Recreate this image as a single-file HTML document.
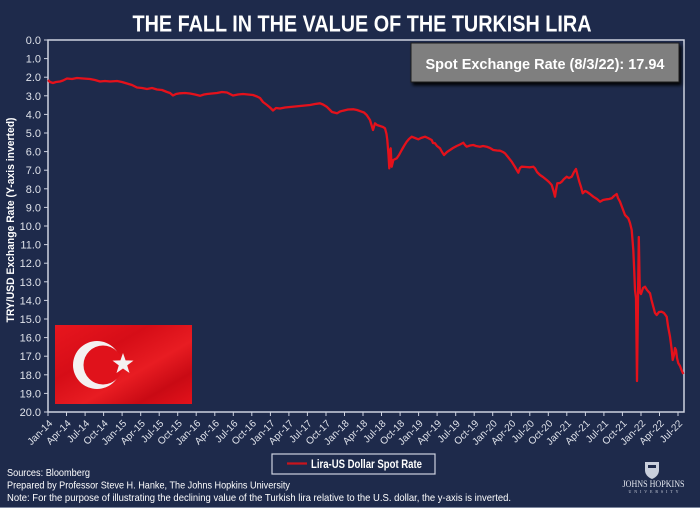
<!DOCTYPE html>
<html><head><meta charset="utf-8"><style>
html,body{margin:0;padding:0;background:#1e2a4b;}
svg{display:block;}
text{font-family:"Liberation Sans",sans-serif;}
text.serif{font-family:"Liberation Serif",serif;}
</style></head><body>
<svg width="700" height="508" viewBox="0 0 700 508" xmlns="http://www.w3.org/2000/svg">
<defs>
<linearGradient id="fg" x1="0" y1="0" x2="1" y2="1">
<stop offset="0" stop-color="#e8161e"/><stop offset="0.35" stop-color="#d60d17"/><stop offset="0.6" stop-color="#e81c22"/><stop offset="0.8" stop-color="#c90a14"/><stop offset="1" stop-color="#e3121b"/>
</linearGradient>
<filter id="sh" x="-10%" y="-20%" width="130%" height="160%"><feDropShadow dx="2" dy="3" stdDeviation="1.5" flood-color="#000" flood-opacity="0.9"/></filter>
</defs>
<rect width="700" height="508" fill="#1e2a4b"/>
<line x1="0" y1="507.5" x2="700" y2="507.5" stroke="#7d879e" stroke-width="1"/>
<!-- title -->
<text x="362" y="31.5" text-anchor="middle" font-size="23" font-weight="bold" fill="#ffffff" textLength="459" lengthAdjust="spacingAndGlyphs">THE FALL IN THE VALUE OF THE TURKISH LIRA</text>
<!-- plot frame -->
<rect x="48" y="40" width="636" height="372" fill="none" stroke="#cdd2e0" stroke-width="1.5"/>
<!-- y ticks & labels -->
<g stroke="#cdd2e0" stroke-width="1">
<line x1="44" y1="40" x2="48" y2="40"/><line x1="44" y1="58.6" x2="48" y2="58.6"/><line x1="44" y1="77.2" x2="48" y2="77.2"/><line x1="44" y1="95.8" x2="48" y2="95.8"/><line x1="44" y1="114.4" x2="48" y2="114.4"/><line x1="44" y1="133" x2="48" y2="133"/><line x1="44" y1="151.6" x2="48" y2="151.6"/><line x1="44" y1="170.2" x2="48" y2="170.2"/><line x1="44" y1="188.8" x2="48" y2="188.8"/><line x1="44" y1="207.4" x2="48" y2="207.4"/><line x1="44" y1="226" x2="48" y2="226"/><line x1="44" y1="244.6" x2="48" y2="244.6"/><line x1="44" y1="263.2" x2="48" y2="263.2"/><line x1="44" y1="281.8" x2="48" y2="281.8"/><line x1="44" y1="300.4" x2="48" y2="300.4"/><line x1="44" y1="319" x2="48" y2="319"/><line x1="44" y1="337.6" x2="48" y2="337.6"/><line x1="44" y1="356.2" x2="48" y2="356.2"/><line x1="44" y1="374.8" x2="48" y2="374.8"/><line x1="44" y1="393.4" x2="48" y2="393.4"/><line x1="44" y1="412" x2="48" y2="412"/>
</g>
<g font-size="11" fill="#dfe2ea" text-anchor="end">
<text x="41" y="44">0.0</text><text x="41" y="62.6">1.0</text><text x="41" y="81.2">2.0</text><text x="41" y="99.8">3.0</text><text x="41" y="118.4">4.0</text><text x="41" y="137">5.0</text><text x="41" y="155.6">6.0</text><text x="41" y="174.2">7.0</text><text x="41" y="192.8">8.0</text><text x="41" y="211.4">9.0</text><text x="41" y="230">10.0</text><text x="41" y="248.6">11.0</text><text x="41" y="267.2">12.0</text><text x="41" y="285.8">13.0</text><text x="41" y="304.4">14.0</text><text x="41" y="323">15.0</text><text x="41" y="341.6">16.0</text><text x="41" y="360.2">17.0</text><text x="41" y="378.8">18.0</text><text x="41" y="397.4">19.0</text><text x="41" y="416">20.0</text>
</g>
<text transform="translate(14,220) rotate(-90)" text-anchor="middle" font-size="11" font-weight="bold" fill="#ffffff" textLength="205" lengthAdjust="spacingAndGlyphs">TRY/USD Exchange Rate (Y-axis inverted)</text>
<!-- x ticks -->
<g stroke="#cdd2e0" stroke-width="1">
<line x1="48" y1="412" x2="48" y2="416"/><line x1="66.5" y1="412" x2="66.5" y2="416"/><line x1="85.1" y1="412" x2="85.1" y2="416"/><line x1="103.6" y1="412" x2="103.6" y2="416"/><line x1="122.1" y1="412" x2="122.1" y2="416"/><line x1="140.7" y1="412" x2="140.7" y2="416"/><line x1="159.2" y1="412" x2="159.2" y2="416"/><line x1="177.7" y1="412" x2="177.7" y2="416"/><line x1="196.2" y1="412" x2="196.2" y2="416"/><line x1="214.8" y1="412" x2="214.8" y2="416"/><line x1="233.3" y1="412" x2="233.3" y2="416"/><line x1="251.8" y1="412" x2="251.8" y2="416"/><line x1="270.4" y1="412" x2="270.4" y2="416"/><line x1="288.9" y1="412" x2="288.9" y2="416"/><line x1="307.4" y1="412" x2="307.4" y2="416"/><line x1="326" y1="412" x2="326" y2="416"/><line x1="344.5" y1="412" x2="344.5" y2="416"/><line x1="363" y1="412" x2="363" y2="416"/><line x1="381.5" y1="412" x2="381.5" y2="416"/><line x1="400.1" y1="412" x2="400.1" y2="416"/><line x1="418.6" y1="412" x2="418.6" y2="416"/><line x1="437.1" y1="412" x2="437.1" y2="416"/><line x1="455.7" y1="412" x2="455.7" y2="416"/><line x1="474.2" y1="412" x2="474.2" y2="416"/><line x1="492.7" y1="412" x2="492.7" y2="416"/><line x1="511.3" y1="412" x2="511.3" y2="416"/><line x1="529.8" y1="412" x2="529.8" y2="416"/><line x1="548.3" y1="412" x2="548.3" y2="416"/><line x1="566.8" y1="412" x2="566.8" y2="416"/><line x1="585.4" y1="412" x2="585.4" y2="416"/><line x1="603.9" y1="412" x2="603.9" y2="416"/><line x1="622.4" y1="412" x2="622.4" y2="416"/><line x1="641" y1="412" x2="641" y2="416"/><line x1="659.5" y1="412" x2="659.5" y2="416"/><line x1="678" y1="412" x2="678" y2="416"/>
</g>
<g font-size="10" fill="#dfe2ea" text-anchor="end">
<text transform="translate(53,424) rotate(-45)">Jan-14</text>
<text transform="translate(71.5,424) rotate(-45)">Apr-14</text>
<text transform="translate(90.1,424) rotate(-45)">Jul-14</text>
<text transform="translate(108.6,424) rotate(-45)">Oct-14</text>
<text transform="translate(127.1,424) rotate(-45)">Jan-15</text>
<text transform="translate(145.7,424) rotate(-45)">Apr-15</text>
<text transform="translate(164.2,424) rotate(-45)">Jul-15</text>
<text transform="translate(182.7,424) rotate(-45)">Oct-15</text>
<text transform="translate(201.2,424) rotate(-45)">Jan-16</text>
<text transform="translate(219.8,424) rotate(-45)">Apr-16</text>
<text transform="translate(238.3,424) rotate(-45)">Jul-16</text>
<text transform="translate(256.8,424) rotate(-45)">Oct-16</text>
<text transform="translate(275.4,424) rotate(-45)">Jan-17</text>
<text transform="translate(293.9,424) rotate(-45)">Apr-17</text>
<text transform="translate(312.4,424) rotate(-45)">Jul-17</text>
<text transform="translate(331,424) rotate(-45)">Oct-17</text>
<text transform="translate(349.5,424) rotate(-45)">Jan-18</text>
<text transform="translate(368,424) rotate(-45)">Apr-18</text>
<text transform="translate(386.5,424) rotate(-45)">Jul-18</text>
<text transform="translate(405.1,424) rotate(-45)">Oct-18</text>
<text transform="translate(423.6,424) rotate(-45)">Jan-19</text>
<text transform="translate(442.1,424) rotate(-45)">Apr-19</text>
<text transform="translate(460.7,424) rotate(-45)">Jul-19</text>
<text transform="translate(479.2,424) rotate(-45)">Oct-19</text>
<text transform="translate(497.7,424) rotate(-45)">Jan-20</text>
<text transform="translate(516.3,424) rotate(-45)">Apr-20</text>
<text transform="translate(534.8,424) rotate(-45)">Jul-20</text>
<text transform="translate(553.3,424) rotate(-45)">Oct-20</text>
<text transform="translate(571.8,424) rotate(-45)">Jan-21</text>
<text transform="translate(590.4,424) rotate(-45)">Apr-21</text>
<text transform="translate(608.9,424) rotate(-45)">Jul-21</text>
<text transform="translate(627.4,424) rotate(-45)">Oct-21</text>
<text transform="translate(646,424) rotate(-45)">Jan-22</text>
<text transform="translate(664.5,424) rotate(-45)">Apr-22</text>
<text transform="translate(683,424) rotate(-45)">Jul-22</text>
</g>
<!-- data line -->
<polyline fill="none" stroke="#e4111b" stroke-width="2.3" stroke-linejoin="round" points="48,80 50,82 53,83 56,82 60,81.5 63,80.5 67,78.5 72,79 77,78 83,78.5 90,79 95,80 100,81.5 105,81 110,81.5 117,81 122,82 127,83.5 132,85 137,87.5 142,88 147,89 152,88 157,89.5 162,90 167,92 170,93 173,95.5 176,94 180,93.3 185,93 190,93.5 195,94.5 200,95.8 204,94.5 207,94 212,93.5 217,93 222,92 227,92.5 230,94 233,95.5 238,94.5 243,94 248,94.5 253,95 257,96.5 260,98 263,102 267,105 270,107.5 273,110.5 276,108 280,108.5 285,107.5 290,107 295,106.5 300,106 305,105.5 310,105 315,104 320,103.3 323,104.5 326.7,106.7 330,110 332,112 337,113.3 340,111.5 343,110.7 348,109.5 353.3,109.3 357,110 361.7,111.7 364,112.5 366.7,115 368,117 370,120 371.5,125 373,130 375,123.3 377,125 380,126 383,127 385,128.3 386.5,134 387.3,140 388.5,155 389.3,168.3 390.2,150 390.7,148.3 391.3,160 391.7,166.7 393.3,160 396.7,158.3 399,155 401.7,150 404,146 406.7,141.7 409,139 411.7,136.7 415,138 418.3,139.3 421,138 425,136.7 428,138 431.7,140 433,143 435,143.3 437,146 440,148.3 442,152 444,155 447,152 450,150 453,148 456.7,146 460,144.5 463.3,142.7 465,145 466.7,146.7 470,145.5 473.3,145 476,146 480,146.7 483,146 486.7,146.7 490,148 493.3,150 497,150.5 500,150.7 503,152 505,153.3 508,157 511.7,161.7 515,167 518.3,172.7 520,168 521.7,166.7 526,167 530,167.3 533.3,166.7 535,168.3 537,172 540,175 543,177 546.7,180 549,182 551.7,185 553.5,191 555,196.7 556,190 557.3,183.3 560,183 561.7,181.7 564,179 566.7,176.7 569,178 571.7,176.7 574,172 576,169 577.5,175 579.3,181.7 581,187 582.7,193.3 585,191 586.7,191.7 590,194 593.3,196.7 597,199 600,201.7 603,200 606.7,199.3 609,199 611.7,198.3 614,196 616.7,194 618,198 620,201.7 622,207 625,215 627,217 628.3,218.3 630,223 631.7,230 632.5,240 633.3,250 634.2,270 635,290 636,298 637,381 638,300 638.8,237 639.8,292 641,294 643,288 645,286.7 647,290 650,293.3 651.5,300 653.3,306.7 655,313 656.7,315 659,312 661.7,311.7 664,313 666.7,316.7 668,326 670,336.7 671.5,348 672.7,360 674,355 675,348 676,350 677,358 678.3,363.3 680,366 681.5,370 683.3,374"/>
<!-- spot box -->
<rect x="411" y="43" width="268" height="39" fill="#7f7f7f" stroke="#1a1a1a" stroke-width="1" filter="url(#sh)"/>
<text x="545" y="69" text-anchor="middle" font-size="15" font-weight="bold" fill="#ffffff" textLength="239" lengthAdjust="spacingAndGlyphs">Spot Exchange Rate (8/3/22): 17.94</text>
<!-- flag -->
<rect x="55" y="325" width="137" height="79" fill="url(#fg)"/>
<circle cx="97" cy="365" r="24" fill="#f4f1f1"/>
<circle cx="103" cy="365" r="19.5" fill="#e0121b"/>
<polygon fill="#f4f1f1" points="123,353 125.6,360.4 133.5,360.6 127.2,365.4 129.5,373 123,368.5 116.5,373 118.8,365.4 112.5,360.6 120.4,360.4"/>
<!-- legend -->
<rect x="272" y="454" width="163" height="20" fill="none" stroke="#cdd2e0" stroke-width="1.2"/>
<line x1="287" y1="463.5" x2="307" y2="463.5" stroke="#c8141c" stroke-width="2.2"/>
<text x="311" y="468" font-size="12" font-weight="bold" fill="#ffffff" textLength="111" lengthAdjust="spacingAndGlyphs">Lira-US Dollar Spot Rate</text>
<!-- footer -->
<g font-size="10.5" fill="#ffffff">
<text x="7" y="476" textLength="83" lengthAdjust="spacingAndGlyphs">Sources: Bloomberg</text>
<text x="7" y="488.5" textLength="283" lengthAdjust="spacingAndGlyphs">Prepared by Professor Steve H. Hanke, The Johns Hopkins University</text>
<text x="7" y="501" textLength="504" lengthAdjust="spacingAndGlyphs">Note: For the purpose of illustrating the declining value of the Turkish lira relative to the U.S. dollar, the y-axis is inverted.</text>
</g>
<!-- JHU logo -->
<path d="M645,462 L659,462 L659,470 Q659,476 652,479 Q645,476 645,470 Z" fill="#c9cfdc"/>
<rect x="648" y="465" width="8" height="3" fill="#1e2a4b"/>
<text class="serif" x="653.5" y="487" text-anchor="middle" font-size="9.5" fill="#e6e9f0" textLength="62" lengthAdjust="spacingAndGlyphs">JOHNS HOPKINS</text>
<text class="serif" x="653.5" y="493" text-anchor="middle" font-size="4" fill="#c9cfdc" textLength="50" lengthAdjust="spacing">UNIVERSITY</text>
</svg>
</body></html>
